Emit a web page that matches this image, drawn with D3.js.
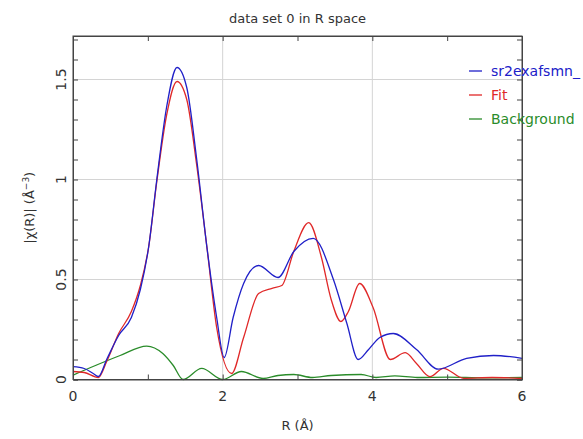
<!DOCTYPE html>
<html>
  <head>
    <meta charset="utf-8">
    <script src="https://d3js.org/d3.v7.min.js"></script>
    <style>
      body { margin: 0; background: #fff; }
      svg { font-family: "DejaVu Sans", Arial, sans-serif; }
      .lbl { fill: #333; font-size: 13px; }
      .grid line { stroke: #d4d4d4; stroke-width: 1px; }
      .line { fill: none; stroke-width: 1.3px; }
    </style>
  </head>
  <body>
    <svg width="583" height="439"></svg>
    <script>
    // data
    var blueR = [0, 0.15, 0.27, 0.34, 0.45, 0.61, 0.78, 0.9, 1.01, 1.12, 1.25, 1.39, 1.52, 1.65, 1.79, 1.92, 2.02, 2.14, 2.28, 2.48, 2.74, 2.95, 3.21, 3.48, 3.66, 3.81, 3.95, 4.10, 4.28, 4.59, 4.88, 5.26, 5.62, 6.0];
    var blueV = [0.064, 0.055, 0.03, 0.015, 0.10, 0.22, 0.31, 0.45, 0.66, 1.0, 1.36, 1.56, 1.46, 1.11, 0.66, 0.31, 0.11, 0.31, 0.48, 0.57, 0.51, 0.64, 0.706, 0.50, 0.28, 0.10, 0.15, 0.21, 0.23, 0.15, 0.052, 0.106, 0.12, 0.106];

    var fitR = [0, 0.15, 0.34, 0.45, 0.61, 0.78, 0.9, 1.01, 1.12, 1.25, 1.39, 1.52, 1.65, 1.79, 1.92, 2.12, 2.28, 2.48, 2.66, 2.79, 2.95, 3.15, 3.32, 3.45, 3.58, 3.68, 3.83, 4.01, 4.24, 4.44, 4.59, 4.77, 4.95, 5.22, 5.6, 6.0];
    var fitV = [0.04, 0.035, 0.01, 0.09, 0.23, 0.34, 0.47, 0.66, 0.99, 1.32, 1.49, 1.40, 1.08, 0.66, 0.26, 0.03, 0.21, 0.43, 0.456, 0.47, 0.64, 0.784, 0.61, 0.40, 0.29, 0.34, 0.48, 0.36, 0.10, 0.134, 0.08, 0.014, 0.056, 0.006, 0.01, 0.005];

    var bkgR = [0, 0.3, 0.63, 0.985, 1.2, 1.34, 1.47, 1.72, 2.0, 2.25, 2.54, 2.74, 2.95, 3.2, 3.45, 3.85, 4.05, 4.3, 4.6, 5.0, 5.5, 6.0];
    var bkgV = [0.022, 0.07, 0.12, 0.167, 0.13, 0.07, 0.0, 0.056, 0.0, 0.04, 0.005, 0.02, 0.025, 0.01, 0.02, 0.025, 0.01, 0.018, 0.01, 0.012, 0.008, 0.01];

    var seriesNames = ["sr2exafsmn_", "Fit", "Background"];
    var seriesColors = ["#2020c8", "#e02828", "#2a8c2a"];
    var xTickLabels = [0, 2, 4, 6];
    var yTickLabels = [0, 0.5, 1, 1.5];

    var svg = d3.select("svg"),
        margin = {top: 36, right: 61, bottom: 59.5, left: 73},
        width = svg.attr("width") - margin.left - margin.right,
        height = svg.attr("height") - margin.top - margin.bottom,
        g = svg.append("g").attr("transform", "translate(" + margin.left + "," + margin.top + ")");

    var x = d3.scaleLinear().domain([0, 6]).range([0, width]),
        y = d3.scaleLinear().domain([0, 1.7175]).range([height, 0]);

    // grid
    g.append("g").attr("class", "grid")
      .selectAll("line.gx").data(xTickLabels.slice(1, -1)).enter().append("line")
      .attr("x1", x).attr("x2", x).attr("y1", 0).attr("y2", height);
    g.select(".grid")
      .selectAll("line.gy").data(yTickLabels.slice(1)).enter().append("line")
      .attr("y1", y).attr("y2", y).attr("x1", 0).attr("x2", width);

    // series
    var series = [
      {name: seriesNames[0], color: seriesColors[0], r: blueR, v: blueV},
      {name: seriesNames[1], color: seriesColors[1], r: fitR, v: fitV},
      {name: seriesNames[2], color: seriesColors[2], r: bkgR, v: bkgV}
    ];

    var line = d3.line()
      .curve(d3.curveMonotoneX)
      .x(function(d) { return x(d[0]); })
      .y(function(d) { return y(d[1]); });

    // draw background first, then fit, then data on top
    series.slice().reverse().forEach(function(s) {
      g.append("path")
        .attr("class", "line")
        .attr("d", line(d3.zip(s.r, s.v)))
        .style("stroke", s.color);
    });

    // axes with inward ticks
    var xt = d3.range(0, 7, 1), yt = d3.range(0, 1.71, 0.1);
    g.append("g").attr("transform", "translate(0," + height + ")")
      .call(d3.axisBottom(x).tickValues(xt).tickSize(-5).tickFormat(""));
    g.append("g")
      .call(d3.axisTop(x).tickValues(xt).tickSize(-5).tickFormat(""));
    g.append("g")
      .call(d3.axisLeft(y).tickValues(yt).tickSize(-5).tickFormat(""));
    g.append("g").attr("transform", "translate(" + width + ",0)")
      .call(d3.axisRight(y).tickValues(yt).tickSize(-5).tickFormat(""));
    g.selectAll(".domain, .tick line").attr("stroke", "#444");
    g.append("rect").attr("width", width).attr("height", height)
      .attr("fill", "none").attr("stroke", "#444");

    // tick labels
    g.selectAll(".xl").data(xTickLabels).enter().append("text")
      .attr("class", "lbl")
      .attr("x", x).attr("y", height + 21)
      .attr("text-anchor", "middle")
      .style("font-size", "14px")
      .text(function(d) { return d; });
    g.selectAll(".yl").data(yTickLabels).enter().append("text")
      .attr("class", "lbl")
      .attr("transform", function(d) { return "translate(-7," + y(d) + ") rotate(-90)"; })
      .attr("text-anchor", "middle")
      .style("font-size", "14px")
      .text(function(d) { return d; });

    // titles
    svg.append("text").attr("class", "lbl")
      .attr("x", margin.left + width / 2).attr("y", 23)
      .attr("text-anchor", "middle")
      .text("data set 0 in R space");
    svg.append("text").attr("class", "lbl")
      .attr("x", margin.left + width / 2).attr("y", 430)
      .attr("text-anchor", "middle")
      .text("R (Å)");
    var yl = svg.append("text").attr("class", "lbl")
      .attr("transform", "translate(34," + (margin.top + height / 2) + ") rotate(-90)")
      .attr("text-anchor", "middle");
    yl.append("tspan").text("|χ(R)| (Å");
    yl.append("tspan").attr("dy", -5).style("font-size", "9px").text("−3");
    yl.append("tspan").attr("dy", 5).text(")");

    // legend
    var leg = svg.selectAll(".leg").data(series).enter().append("g")
      .attr("transform", function(d, i) { return "translate(469," + (71 + i * 24) + ")"; });
    leg.append("line").attr("x1", 0).attr("x2", 13)
      .attr("stroke", function(d) { return d.color; }).attr("stroke-width", 1.3);
    leg.append("text")
      .attr("x", 22).attr("dy", "0.35em")
      .style("font-size", "14px")
      .attr("fill", function(d) { return d.color; })
      .text(function(d) { return d.name; });
    </script>
  </body>
</html>
